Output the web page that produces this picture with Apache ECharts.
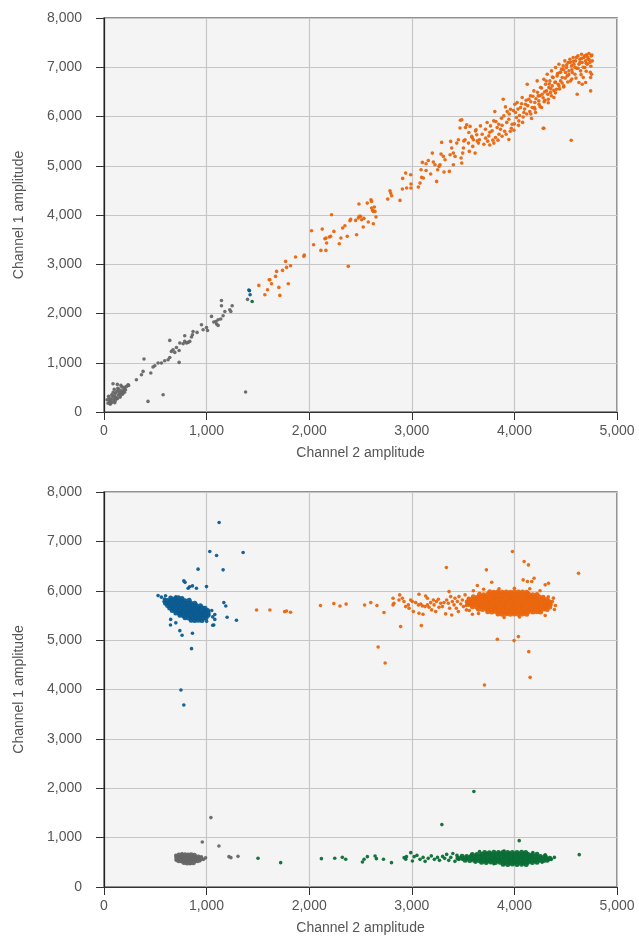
<!DOCTYPE html>
<html>
<head>
<meta charset="utf-8">
<script src="https://cdn.jsdelivr.net/npm/echarts@6/dist/echarts.min.js"></script>
<style>
  html, body { margin: 0; background: #fff; }
  #chart { width: 639px; height: 939px; }
</style>
</head>
<body>
<div id="chart"></div>
<script>
// axis ticks
var xTicks = [0, 1000, 2000, 3000, 4000, 5000];
var yTicks = [0, 1000, 2000, 3000, 4000, 5000, 6000, 7000, 8000];
var xName = 'Channel 2 amplitude';
var yName = 'Channel 1 amplitude';

// ---- top plot ----
var topGray = [
  [40,180],[55,230],[60,160],[70,260],[80,200],[85,310],[50,290],[95,250],[100,330],[105,190],[110,380],[120,300],
  [125,420],[130,270],[140,350],[145,460],[150,400],[160,330],[165,380],[170,430],[175,510],[180,360],[190,420],
  [195,470],[210,450],[220,520],[240,540],[75,350],[90,400],[115,280],[60,210],[135,480],[155,300],[185,390],
  [30,250],[88,574],[200,400],[130,560],[165,540],[45,320],[100,460],[200,500],[65,170],[110,230],
  [234,554],[316,656],[365,757],[381,824],[390,1076],[429,215],[456,792],[478,913],[495,940],[527,995],[560,995],
  [576,351],[592,1041],[625,1062],[641,1108],[641,1454],[657,1230],[673,1265],[690,1210],[706,1311],[732,1250],
  [732,1007],[739,1400],[771,1386],[787,1433],[787,1549],[804,1400],[820,1413],[836,1433],[853,1522],[862,1569],
  [868,1636],[907,1616],[950,1772],[966,1671],[999,1717],[1009,1656],[1048,1941],[1070,1827],[1090,1839],
  [1097,1786],[1112,1758],[1112,1874],[1138,1888],[1145,2265],[1145,2158],[1161,1955],[1178,2042],[1226,2077],
  [1236,2042],[1249,2158],[1380,406],[1399,2286]
];
var topBlue = [[1412,2476],[1418,2462],[1424,2381]];
var topGreen = [[1444,2245]];
var topOrange = [
  [1509,2571],[1568,2381],[1594,2483],[1610,2686],[1617,2686],[1633,2605],[1672,2753],[1682,2855],[1704,2530],
  [1714,2368],[1740,2875],[1770,3058],[1779,2936],[1796,2605],[1818,2970],[1867,3146],[1948,3160],[1952,3187],
  [2023,3681],[2043,3396],[2114,3281],[2127,3714],[2153,3518],[2163,3532],[2170,3430],[2163,3281],[2196,3552],
  [2209,3566],[2218,4005],[2241,3667],[2293,3417],[2309,3532],[2326,3735],[2348,3782],[2371,3566],[2381,2957],
  [2397,3884],[2404,3911],[2452,3890],[2462,3599],[2478,3938],[2488,3972],[2501,3972],[2511,3904],[2527,3755],
  [2534,3931],[2485,4222],[2566,4242],[2576,3857],[2602,4310],[2608,4276],[2608,4141],[2618,4093],[2625,4073],
  [2635,4161],[2641,4073],[2651,3958],[2625,3823],[2765,4323],[2787,4493],[2794,4445],[2804,4391],[2885,4296],
  [2911,4743],[2908,4527],[2940,4851],[2950,4547],[2989,4817],[2992,4628],[2992,4547],[3064,4567],[3080,4648],
  [3090,4919],[3096,4763],[3103,5068],[3113,4750],[3139,4905],[3139,5041],[3161,5108],[3184,4831],[3200,5257],
  [3210,5075],[3226,5020],[3242,4682],[3252,4919],[3265,4987],[3275,5020],[3285,5237],[3291,5474],[3308,5190],
  [3314,4872],[3324,5122],[3366,4885],[3373,5223],[3379,5494],[3389,5359],[3405,5257],[3405,5020],[3422,5190],
  [3438,5460],[3454,5528],[3470,5765],[3480,5156],[3487,5054],[3496,5257],[3503,5359],[3519,5528],[3535,5833],
  [3552,5460],[3561,5291],[3568,5799],[3584,5596],[3594,5393],[3600,5528],[3617,5257],[3626,5731],[3633,5630],
  [3649,5460],[3659,5528],[3487,5934],
  [3474,5924],[3523,5776],[3556,5674],[3507,5505],[3588,5573],[3621,5708],[3637,5505],[3669,5809],[3686,5640],
  [3702,5437],[3718,5742],[3734,5877],[3751,5606],[3767,5809],[3783,5708],[3799,5911],[3809,6100],[3816,5573],
  [3832,5776],[3848,5843],[3865,5742],[3874,5965],[3891,6351],[3897,6012],[3913,6195],[3930,6100],[3946,5532],
  [3946,5945],[3962,6148],[3978,5843],[3995,5722],[4004,6249],[4011,6080],[4027,6283],[4043,5911],[4060,6182],
  [4076,6385],[4092,6080],[4108,6249],[4125,6655],[4141,6351],[4157,6418],[4167,5958],[4173,6182],[4190,6520],
  [4199,6283],[4206,6080],[4222,6723],[4232,6418],[4238,6317],[4255,6588],[4265,6182],[4271,6452],[4281,5762],
  [4287,6757],[4297,6331],[4304,6655],[4313,6520],[4320,6858],[4330,6351],[4336,6588],[4346,6723],[4352,6486],
  [4362,6926],[4369,6621],[4378,6791],[4385,6385],[4395,6689],[4401,6994],[4411,6554],[4417,6824],[4427,6655],
  [4434,7061],[4443,6892],[4450,6723],[4460,6960],[4466,6791],[4476,7027],[4482,6621],[4492,7129],[4499,6892],
  [4508,6994],[4515,6824],[4525,7095],[4531,6926],[4541,7163],[4547,6723],[4557,7027],[4564,6892],[4573,7197],
  [4580,7061],[4590,6858],[4596,7129],[4606,6980],[4612,6452],[4619,7230],[4629,7061],[4638,7163],[4645,6926],
  [4655,7264],[4661,7095],[4671,6791],[4677,7197],[4687,6994],[4694,7129],[4703,7251],[4710,7061],[4720,7163],
  [4726,7278],[4736,7095],[4743,6520],[4749,7230],[4752,6858],[4759,7129],[4554,5518],[4287,5762],[4629,6689],
  [4661,6655],[4694,6689],[4743,6791],
  [3720,5560],[3760,5680],[3790,5520],[3820,5900],[3850,5640],[3880,5820],[3905,5700],[3925,5880],[3950,6050],
  [3970,5760],[3990,6120],[4020,5980],[4035,6150],[4050,6020],[4070,6260],[4085,5990],[4100,6150],[4115,6330],
  [4130,6220],[4150,6100],[4160,6300],[4180,6410],[4195,6180],[4210,6360],[4225,6490],[4240,6250],[4250,6420],
  [4265,6580],[4280,6380],[4295,6500],[4310,6720],[4325,6450],[4340,6660],[4355,6560],[4370,6800],[4385,6530],
  [4400,6700],[4420,6870],[4435,6620],[4450,6900],[4465,6680],[4480,6950],[4495,6780],[4510,7050],[4530,6850],
  [4545,7100],[4560,6950],[4575,7120],[4590,7000],[4605,7200],[4620,6980],[4640,7100],[4655,7180],[4670,7000],
  [4685,7230],[4700,7080],[4715,7200],[4730,7150],[4745,7020],[4755,7250],[4740,6900],[4700,6920],[4650,6850],
  [4600,6780],[4560,6760],[4520,6700],[4480,6600],[4440,6560],[4400,6480],[4360,6420],[4330,6280],[4290,6300],
  [4250,6200],[4200,6150],[4160,6050],[4120,6050],[4080,5880],[4040,5820],[4000,5850],[3960,5700],[3920,5640],
  [3880,5600],[3840,5520],[3800,5460],[3760,5420],[3740,5500]
];

// ---- bottom plot: dense cluster cores ----
var botBlueCore = [
  [650,5855],[690,5840],[725,5860],[760,5845],
  [615,5805],[650,5795],[685,5810],[720,5790],[755,5805],[790,5795],[830,5808],
  [600,5748],[635,5760],[670,5742],[705,5755],[740,5745],[775,5758],[810,5740],[845,5752],[885,5746],
  [620,5700],[655,5692],[690,5706],[725,5695],[760,5703],[795,5690],[830,5705],[865,5696],[900,5702],[940,5694],
  [640,5652],[675,5645],[710,5656],[745,5642],[780,5650],[815,5658],[850,5644],[885,5652],[920,5646],[955,5655],[985,5648],
  [665,5598],[700,5605],[735,5594],[770,5602],[805,5596],[840,5606],[875,5597],[910,5603],[945,5595],[980,5601],[1010,5598],
  [700,5550],[735,5545],[770,5556],[805,5548],[840,5554],[875,5546],[910,5552],[945,5544],[980,5555],[1015,5549],
  [740,5502],[775,5496],[810,5505],[845,5498],[880,5503],[915,5495],[950,5504],[985,5497],[1015,5502],
  [790,5452],[825,5446],[860,5455],[895,5448],[930,5453],[965,5445],[995,5452],
  [850,5405],[885,5398],[920,5404],[955,5400]
];
var botOrangeCore = [
  [3760,5978],[3800,5970],[3840,5980],[3880,5972],[3920,5976],[3960,5969],[4000,5981],[4040,5973],[4080,5977],[4120,5970],
  [3660,5927],[3700,5921],[3740,5930],[3780,5923],[3820,5928],[3860,5920],[3900,5929],[3940,5922],[3980,5926],
  [4020,5921],[4060,5930],[4100,5924],[4140,5927],[4180,5920],[4220,5925],
  [3600,5876],[3640,5870],[3680,5880],[3720,5872],[3760,5877],[3800,5869],[3840,5881],[3880,5873],[3920,5878],
  [3960,5870],[4000,5879],[4040,5872],[4080,5876],[4120,5871],[4160,5880],[4200,5873],[4240,5877],[4280,5870],
  [3560,5827],[3600,5821],[3640,5830],[3680,5822],[3720,5828],[3760,5820],[3800,5829],[3840,5823],[3880,5826],
  [3920,5820],[3960,5831],[4000,5823],[4040,5827],[4080,5821],[4120,5830],[4160,5822],[4200,5828],[4240,5820],
  [4280,5829],[4320,5823],
  [3540,5776],[3580,5770],[3620,5780],[3660,5772],[3700,5778],[3740,5770],[3780,5779],[3820,5771],[3860,5777],
  [3900,5769],[3940,5781],[3980,5773],[4020,5776],[4060,5770],[4100,5780],[4140,5772],[4180,5778],[4220,5770],
  [4260,5779],[4300,5771],[4340,5777],
  [3550,5727],[3590,5721],[3630,5730],[3670,5723],[3710,5728],[3750,5720],[3790,5729],[3830,5722],[3870,5727],
  [3910,5721],[3950,5730],[3990,5723],[4030,5726],[4070,5720],[4110,5731],[4150,5723],[4190,5727],[4230,5720],
  [4270,5729],[4310,5722],[4350,5726],
  [3590,5676],[3630,5670],[3670,5680],[3710,5672],[3750,5677],[3790,5669],[3830,5681],[3870,5673],[3910,5678],
  [3950,5670],[3990,5679],[4030,5672],[4070,5676],[4110,5671],[4150,5680],[4190,5673],[4230,5677],[4270,5670],
  [4310,5679],[4345,5671],
  [3650,5627],[3690,5621],[3730,5630],[3770,5622],[3810,5628],[3850,5620],[3890,5629],[3930,5623],[3970,5626],
  [4010,5620],[4050,5631],[4090,5623],[4130,5627],[4170,5621],[4210,5630],[4250,5622],[4290,5628],[4320,5620],
  [3740,5576],[3780,5570],[3820,5580],[3860,5572],[3900,5577],[3940,5569],[3980,5581],[4020,5573],[4060,5577],
  [4100,5570],[4140,5579],[4180,5572],[4220,5576],[4255,5570],
  [3840,5530],[3880,5524],[3920,5532],[3960,5525],[4000,5530],[4040,5523],[4080,5531],[4120,5526]
];
var botGreenCore = [
  [3710,700],[3755,696],[3800,703],[3845,698],[3890,702],[3935,697],[3980,701],[4025,699],[4070,703],[4110,697],
  [3590,660],[3635,656],[3680,663],[3725,658],[3770,662],[3815,657],[3860,661],[3905,659],[3950,663],[3995,656],
  [4040,662],[4085,658],[4130,663],[4175,657],[4220,661],
  [3490,621],[3535,617],[3580,623],[3625,618],[3670,622],[3715,616],[3760,621],[3805,619],[3850,624],[3895,617],
  [3940,622],[3985,618],[4030,621],[4075,616],[4120,623],[4165,619],[4210,620],[4255,617],[4300,622],
  [3450,582],[3495,576],[3540,584],[3585,578],[3630,583],[3675,577],[3720,581],[3765,579],[3810,584],[3855,576],
  [3900,582],[3945,578],[3990,583],[4035,577],[4080,581],[4125,579],[4170,584],[4215,576],[4260,582],[4305,578],
  [4345,580],
  [3520,541],[3565,537],[3610,543],[3655,538],[3700,542],[3745,536],[3790,541],[3835,539],[3880,544],[3925,537],
  [3970,542],[4015,538],[4060,541],[4105,536],[4150,543],[4195,539],[4240,540],[4285,537],[4320,542],
  [3680,502],[3725,496],[3770,504],[3815,498],[3860,503],[3905,497],[3950,501],[3995,499],[4040,504],[4085,496],
  [4130,502],[4175,498],[4220,503],
  [3890,462],[3935,456],[3980,464],[4025,458],[4070,463],[4115,457]
];
var botGrayCore = [
  [730,650],[760,646],[790,653],[820,648],[850,652],[880,645],
  [710,612],[740,606],[770,614],[800,608],[830,613],[860,605],[890,611],[920,607],
  [710,572],[740,566],[770,574],[800,568],[830,573],[860,565],[890,571],[920,567],[945,572],
  [730,532],[760,526],[790,534],[820,528],[850,533],[880,525],[910,531],
  [780,494],[810,488],[840,494],[870,490]
];

// ---- bottom plot: scattered points ----
var botBlue = [
  [560,5870],[590,5830],[1060,5470],[1080,5520],[700,5880],[1050,5600],[600,5900],[585,5780],[1000,5380],
  [1060,5300],[700,5350],[650,5420],[1080,5420],
  [1122,7382],[1031,6794],[1097,6713],[1356,6774],[917,6437],[1161,6423],[778,6200],[790,6170],[862,6098],
  [820,6051],[835,6080],[901,6051],[999,6084],[527,5902],[1168,5760],[1187,5692],[1200,5463],[1291,5402],
  [648,5307],[739,5192],[761,5099],[862,5139],[1070,5307],[853,4827],[750,3989],[778,3685]
];
var botOrange = [
  [3600,6000],[3700,6030],[3850,6040],[4000,6050],[4150,6040],[4250,6000],[4380,5850],[4400,5700],[4390,5620],
  [4300,5500],[3900,5460],[4050,5470],[3650,5540],[3560,5600],[4330,5880],[4370,5780],[3530,5700],
  [2817,5848],[2826,5747],[2817,5713],[2875,5814],[2908,5848],[2924,5781],[2940,5679],[2966,5713],[2973,5645],
  [2989,5814],[3005,5781],[3015,5578],[3038,5760],[3064,5713],[3070,5544],[3087,5733],[3103,5693],[3109,5524],
  [3129,5679],[3152,5713],[3168,5666],[3184,5760],[3194,5612],[3210,5814],[3217,5713],[3233,5578],[3239,5781],
  [3259,5828],[3265,5666],[3282,5747],[3298,5679],[3314,5760],[3330,5531],[3340,5814],[3356,5747],[3369,5645],
  [3379,5882],[3389,5510],[3395,5781],[3412,5713],[3421,5848],[3434,5645],[3444,5781],[3454,5578],[3460,5882],
  [3477,5733],[3493,5814],[3503,5679],[3519,5916],[3532,5612],[3542,5760],[3552,5848],[3558,5713],[3591,5524],
  [3981,6795],[4095,6592],[4137,6524],[4625,6355],[3337,6470],[3727,6423],[3779,6173],[3639,6105],[4085,6220],
  [4127,6186],[4169,6186],[4192,6254],[4300,6119],[4332,6152],[2882,5916],[3070,5929],[3135,5895],[3152,5848],
  [3363,5983],[2729,5558],[2891,5274],[3093,5294],[3834,5017],[3997,4990],[4039,5071],[4140,4767],[4153,4246],
  [3708,4091],[2672,4862],[2740,4537],
  [1487,5611],[1617,5611],[1761,5577],[1779,5590],[1818,5564],[2110,5700],[2240,5740],[2300,5690],[2360,5730],
  [2540,5710],[2600,5760],[2660,5700]
];
var botGreen = [
  [3440,640],[3660,720],[3900,730],[4180,700],[4300,650],[4360,560],[4270,500],[3620,500],[3460,560],[3800,470],
  [1501,581],[1722,493],[2119,574],[2249,581],[2323,601],[2356,561],[2519,507],[2535,561],[2567,615],[2642,628],
  [2655,574],[2724,561],[2802,493],[2925,594],[2941,561],[2948,615],[2990,696],[3006,527],[3023,615],[3050,640],
  [3080,560],[3110,600],[3130,520],[3160,580],[3190,630],[3220,560],[3250,600],[3270,540],[3300,620],[3320,580],
  [3340,660],[3360,540],[3380,600],[3400,680],[3420,520],
  [3605,1933],[3293,1264],[4047,939],[4632,655],[4340,561],[4390,600]
];
var botGray = [
  [700,640],[705,540],[950,610],[935,530],[760,670],[840,470],
  [1042,1406],[958,912],[1120,831],[1218,615],[1237,594],[1306,621],[990,590],[970,560]
];

var COLORS = { gray: '#666666', blue: '#0a5b90', green: '#0a6d35', orange: '#ea650c' };
var TEXT = '#555';
var FONT = 'Liberation Sans';

function fmt(v) {
  return String(v).replace(/\B(?=(\d{3})+(?!\d))/g, ',');
}

function makeX(i) {
  return {
    gridIndex: i, type: 'value',
    min: xTicks[0], max: xTicks[xTicks.length - 1], interval: xTicks[1] - xTicks[0],
    name: xName, nameLocation: 'middle', nameGap: 34,
    nameTextStyle: { color: TEXT, fontSize: 14, fontFamily: FONT },
    axisLine: { show: true, lineStyle: { color: '#333', width: 1.2 } },
    axisTick: { show: true, length: 8, lineStyle: { color: '#333' } },
    axisLabel: { color: TEXT, fontSize: 14, fontFamily: FONT, margin: 12, formatter: fmt },
    splitLine: { show: true, lineStyle: { color: '#c6c6c6', width: 1.2 } }
  };
}
function makeY(i) {
  return {
    gridIndex: i, type: 'value',
    min: yTicks[0], max: yTicks[yTicks.length - 1], interval: yTicks[1] - yTicks[0],
    name: yName, nameLocation: 'middle', nameGap: 78, nameRotate: 90,
    nameTextStyle: { color: TEXT, fontSize: 14, fontFamily: FONT },
    axisLine: { show: true, lineStyle: { color: '#222', width: 1.2 } },
    axisTick: { show: true, length: 8, lineStyle: { color: '#333' } },
    axisLabel: { color: TEXT, fontSize: 14, fontFamily: FONT, margin: 22, formatter: fmt },
    splitLine: { show: true, lineStyle: { color: '#c6c6c6', width: 1.2 } }
  };
}
function dots(i, data, color, size) {
  return {
    type: 'scatter', xAxisIndex: i, yAxisIndex: i, data: data,
    symbol: 'circle', symbolSize: size || 3.6,
    itemStyle: { color: color, opacity: 0.95 },
    silent: true
  };
}

var chart = echarts.init(document.getElementById('chart'));
chart.setOption({
  animation: false,
  grid: [
    { left: 104, top: 18, width: 513, height: 394, show: true, backgroundColor: '#f4f4f4', borderColor: '#6e6e6e', borderWidth: 1.5 },
    { left: 104, top: 492, width: 513, height: 395, show: true, backgroundColor: '#f4f4f4', borderColor: '#6e6e6e', borderWidth: 1.5 }
  ],
  xAxis: [makeX(0), makeX(1)],
  yAxis: [makeY(0), makeY(1)],
  series: [
    dots(0, topGray, COLORS.gray),
    dots(0, topOrange, COLORS.orange),
    dots(0, topBlue, COLORS.blue),
    dots(0, topGreen, COLORS.green),
    dots(1, botGrayCore, COLORS.gray, 5),
    dots(1, botGray, COLORS.gray),
    dots(1, botGreenCore, COLORS.green, 5),
    dots(1, botGreen, COLORS.green),
    dots(1, botBlueCore, COLORS.blue, 5),
    dots(1, botBlue, COLORS.blue),
    dots(1, botOrangeCore, COLORS.orange, 5),
    dots(1, botOrange, COLORS.orange)
  ]
});
</script>
</body>
</html>
